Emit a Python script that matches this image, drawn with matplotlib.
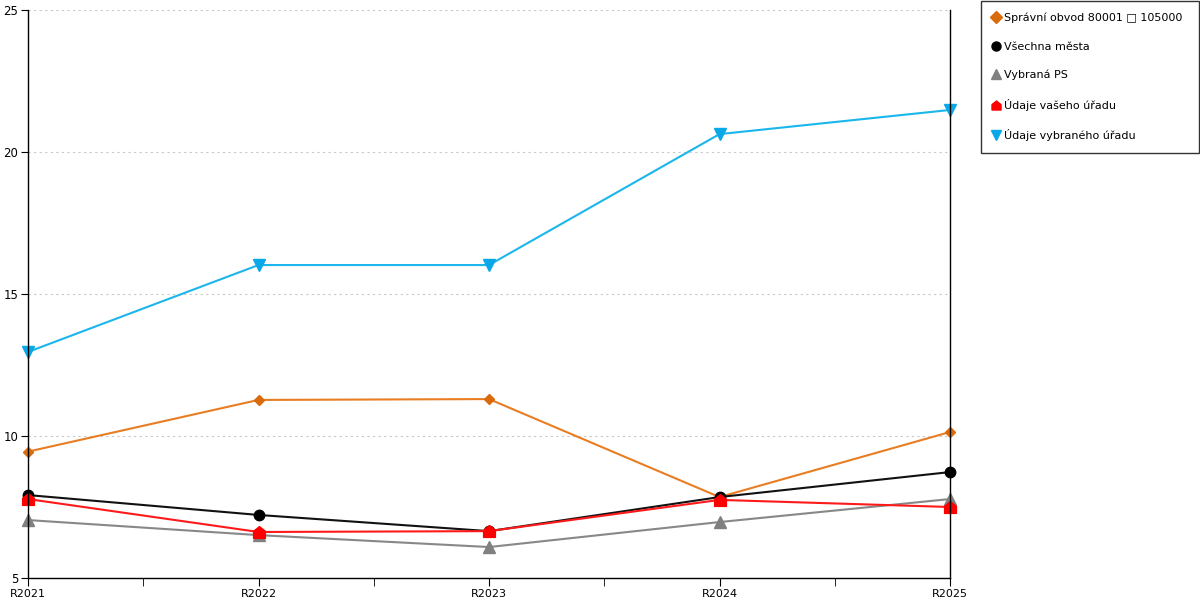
import matplotlib.pyplot as plt
import numpy as np
from matplotlib.path import Path

roky = ['R2021', 'R2022', 'R2023', 'R2024', 'R2025']
spravni_obvod = [9.45, 11.27, 11.30, 7.85, 10.14]
vsechna_mesta = [7.92, 7.22, 6.65, 7.85, 8.73]
vybrana_ps = [7.04, 6.51, 6.09, 6.97, 7.78]
vas_urad = [7.78, 6.62, 6.65, 7.75, 7.50]
vybrany_urad = [12.96, 16.02, 16.02, 20.63, 21.48]

# domecek jako znacka
domek = Path([(-1, -1), (1, -1), (1, 0.2), (0, 1), (-1, 0.2), (-1, -1)],
             [Path.MOVETO, Path.LINETO, Path.LINETO, Path.LINETO, Path.LINETO, Path.CLOSEPOLY])

x = np.arange(len(roky))

fig = plt.figure(figsize=(12, 6), dpi=100)
ax = fig.add_axes([28/1200, 22/600, 922/1200, 568/600])

ax.plot(x, spravni_obvod, color='#e87d22', lw=1.5, marker='D', ms=5.5,
        mfc='#d96b0c', mec='#d96b0c', clip_on=False, label='Správní obvod 80001 \u25a1 105000')
ax.plot(x, vsechna_mesta, color='#111111', lw=1.5, marker='o', ms=7.5,
        mfc='black', mec='black', clip_on=False, label='Všechna města')
ax.plot(x, vybrana_ps, color='#888888', lw=1.5, marker='^', ms=8,
        mfc='#808080', mec='#808080', clip_on=False, label='Vybraná PS')
ax.plot(x, vas_urad, color='#ff1a1a', lw=1.5, marker=domek, ms=8.5,
        mfc='red', mec='red', clip_on=False, label='Údaje vašeho úřadu')
ax.plot(x, vybrany_urad, color='#1ab6ec', lw=1.5, marker='v', ms=8,
        mfc='#0aa8e8', mec='#0aa8e8', clip_on=False, label='Údaje vybraného úřadu')

ax.set_xlim(0, len(roky) - 1)
ax.set_ylim(5, 25)
ax.set_yticks([5, 10, 15, 20, 25])
ax.set_xticks(x)
ax.set_xticklabels(roky)
ax.set_xticks(x[:-1] + 0.5, minor=True)
ax.tick_params(axis='x', which='both', length=6, labelsize=8, pad=2)
ax.tick_params(axis='y', length=5, labelsize=8.5, pad=2)
ax.yaxis.grid(True, linestyle=(0, (2, 3)), color='#c8c8c8', lw=0.8)
ax.set_axisbelow(True)

ax.spines['top'].set_visible(False)
for s in ['left', 'right', 'bottom']:
    ax.spines[s].set_color('black')
    ax.spines[s].set_linewidth(1)

leg = fig.legend(loc='upper left', bbox_to_anchor=(981/1200, 1 - 1/600 - 0.2, 218/1200, 0.2),
                 mode='expand',
                 fontsize=8, frameon=True, fancybox=False, edgecolor='black',
                 handlelength=0.6, handletextpad=0.4, labelspacing=1.65,
                 borderpad=1.05, borderaxespad=0)
leg.get_frame().set_linewidth(1)
for h in leg.legend_handles:
    h.set_linestyle('None')
    h.set_markersize(6.5)

fig.savefig('out.png', dpi=100)
